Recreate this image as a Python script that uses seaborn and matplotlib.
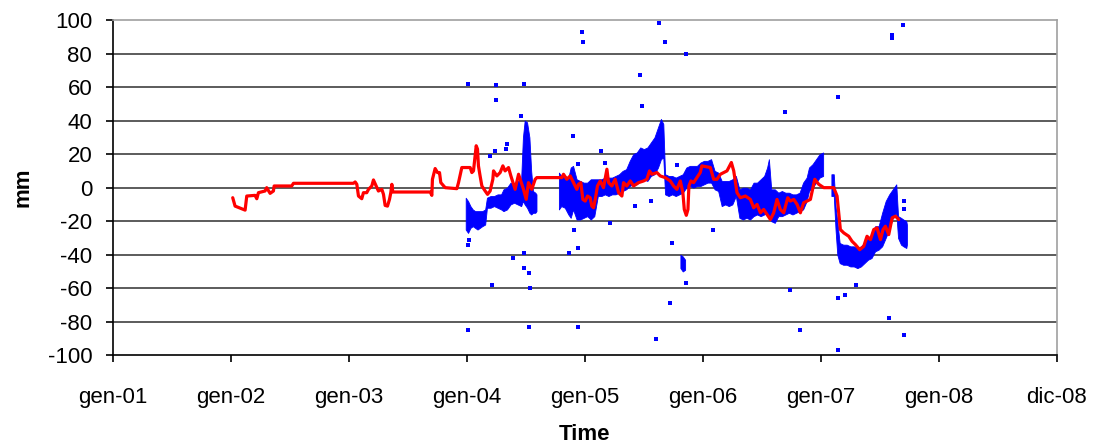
import numpy as np
import pandas as pd
import matplotlib
matplotlib.use('Agg')
import matplotlib.pyplot as plt
import seaborn as sns

# red line: (decimal year, mm)
red_t = [2002.015, 2002.035, 2002.12, 2002.134, 2002.204, 2002.219, 2002.233, 2002.289, 2002.303,
         2002.332, 2002.36, 2002.366, 2002.515, 2002.53, 2003.038, 2003.053, 2003.067, 2003.081,
         2003.109, 2003.123, 2003.151, 2003.166, 2003.194, 2003.208, 2003.231, 2003.25, 2003.279,
         2003.293, 2003.307, 2003.327, 2003.344, 2003.355, 2003.364, 2003.372, 2003.689, 2003.703,
         2003.708, 2003.731, 2003.751, 2003.768, 2003.779, 2003.816, 2003.915, 2003.929, 2003.957,
         2004.028, 2004.042, 2004.056, 2004.079, 2004.09, 2004.098, 2004.112, 2004.127, 2004.155,
         2004.175, 2004.197, 2004.22, 2004.226, 2004.254, 2004.282, 2004.305, 2004.324, 2004.353,
         2004.373, 2004.395, 2004.409, 2004.438, 2004.457, 2004.48, 2004.503, 2004.522, 2004.55,
         2004.579, 2004.593, 2004.805, 2004.819, 2004.847, 2004.876, 2004.904, 2004.932, 2004.946,
         2004.966, 2004.983, 2005.003, 2005.023, 2005.045, 2005.059, 2005.074, 2005.088, 2005.107,
         2005.13, 2005.158, 2005.187, 2005.201, 2005.229, 2005.257, 2005.286, 2005.314, 2005.328,
         2005.356, 2005.385, 2005.413, 2005.455, 2005.498, 2005.526, 2005.548, 2005.568, 2005.611,
         2005.639, 2005.681, 2005.724, 2005.752, 2005.78, 2005.809, 2005.831, 2005.843, 2005.86,
         2005.874, 2005.882, 2005.899, 2005.922, 2005.95, 2005.978, 2005.992, 2006.064, 2006.092,
         2006.12, 2006.149, 2006.205, 2006.242, 2006.262, 2006.29, 2006.318, 2006.361, 2006.403,
         2006.431, 2006.46, 2006.488, 2006.516, 2006.544, 2006.573, 2006.601, 2006.629, 2006.657,
         2006.686, 2006.72, 2006.742, 2006.771, 2006.799, 2006.827, 2006.855, 2006.884, 2006.912,
         2006.949, 2006.983, 2007.025, 2007.11, 2007.138, 2007.166, 2007.195, 2007.237, 2007.265,
         2007.294, 2007.33, 2007.364, 2007.392, 2007.421, 2007.449, 2007.477, 2007.506, 2007.528,
         2007.548, 2007.576, 2007.605, 2007.633, 2007.661]
red_v = [-6, -11, -13.4, -5, -4.6, -6.6, -3, -2, 0,
         -3.4, -2, 1, 1, 2.6, 2.6, 3.4, 2, -5,
         -6.6, -3, -3, -1, 1, 4.6, 1, -2, -1,
         -4, -10.6, -11, -7, -3, 2, -2.6, -2.6, -4.6,
         5, 11.4, 9, 9, 3, 0, -0.6, 3, 12,
         12, 9, 10, 25, 23, 13, 7, 1, -2,
         -4, -2, 5, 10, 7, 9, 13, 10, 12,
         7, 2, -1, 8, 4, -1, -7, 3, -1,
         5, 6, 6, 8, 5, 7, 3, -1, 2,
         3, -7, -8, -5, -6, -11, -12, -7, 1,
         4, 0, 11, 3, 1, 5, -3, -5, 3,
         1, 4, 1, 3, 4, 5, 10, 8, 9,
         7, 6, 4, 1, -1, 4, -3, -13, -16.5,
         -13, 1, 4, 3, 6, 9, 13, 12, 5,
         5, 8, 10, 15, 10, -3, -6, -5, -7,
         -12, -10, -15, -13, -16, -19, -15, -7, -13,
         -15, -6, -8, -7, -10, -15, -9, -8, -7,
         5, 2, 0, 0, -5, -25, -27, -29, -32,
         -34, -37, -35, -29, -31, -25, -24, -31, -25,
         -23, -28, -18, -17, -19]

# blue cloud envelope: segment id, decimal year, upper, lower
band_seg = [0] * 28 + [1] * 79 + [2] * 26 + [3] * 3
band_t = [2003.99, 2004.01, 2004.03, 2004.05, 2004.07, 2004.09, 2004.11, 2004.13, 2004.155, 2004.17,
          2004.20, 2004.23, 2004.26, 2004.29, 2004.31, 2004.34, 2004.37, 2004.40, 2004.43, 2004.46,
          2004.475, 2004.49, 2004.51, 2004.53, 2004.545, 2004.56, 2004.58, 2004.59,
          2004.78, 2004.80, 2004.83, 2004.86, 2004.88, 2004.90, 2004.93, 2004.96, 2004.99, 2005.02,
          2005.05, 2005.08, 2005.11, 2005.14, 2005.17, 2005.20, 2005.23, 2005.26, 2005.29, 2005.32,
          2005.35, 2005.38, 2005.41, 2005.44, 2005.47, 2005.50, 2005.53, 2005.56, 2005.59, 2005.62,
          2005.645, 2005.665, 2005.68, 2005.71, 2005.74, 2005.77, 2005.80, 2005.83, 2005.86, 2005.89,
          2005.92, 2005.95, 2005.98, 2006.01, 2006.04, 2006.07, 2006.10, 2006.13, 2006.16, 2006.19,
          2006.22, 2006.25, 2006.28, 2006.31, 2006.34, 2006.37, 2006.40, 2006.43, 2006.46, 2006.49,
          2006.52, 2006.545, 2006.56, 2006.58, 2006.61, 2006.64, 2006.67, 2006.70, 2006.73, 2006.76,
          2006.79, 2006.82, 2006.85, 2006.88, 2006.90, 2006.93, 2006.96, 2006.99, 2007.02,
          2007.09, 2007.11, 2007.125, 2007.14, 2007.16, 2007.19, 2007.22, 2007.25, 2007.28, 2007.31,
          2007.34, 2007.37, 2007.40, 2007.43, 2007.46, 2007.49, 2007.52, 2007.55, 2007.58, 2007.61,
          2007.64, 2007.655, 2007.68, 2007.70, 2007.725, 2007.73,
          2005.81, 2005.83, 2005.85]
band_hi = [-6, -8, -11, -13, -14, -14, -14, -14, -13, -6,
           -5, -5, -4, -4, -1, 0, 3, 2, 4, 5,
           30, 40, 39, 30, 10, -2, -3, -4,
           9, 7, 7, 6, 12, 13, 5, 4, 3, 3,
           5, 5, 5, 5, 6, 6, 6, 7, 8, 10,
           11, 16, 20, 21, 24, 23, 24, 27, 30, 36,
           41, 38, 8, 7, 7, 6, 7, 8, 12, 13,
           13, 13, 15, 16, 16, 17, 10, 9, 4, 4,
           4, 5, 7, -1, 0, 0, -1, 3, 3, 5,
           7, 12, 17, -1, -1, -3, -2, -3, -3, -4,
           -4, -3, 3, 6, 12, 14, 17, 20, 21,
           8, 8, -11, -20, -33, -34, -34, -35, -35, -36,
           -35, -33, -30, -29, -23, -23, -15, -8, -4, -1,
           2, -17, -18, -19, -20, -22,
           -40, -41, -43]
band_lo = [-25, -27, -24, -23, -24, -25, -24, -23, -22, -12,
           -12, -11, -12, -13, -14, -13, -10, -9, -10, -11,
           -8, -10, -12, -15, -16, -15, -15, -14,
           -13, -11, -12, -16, -18, -13, -19, -19, -18, -17,
           -19, -17, -5, -5, -4, -5, -4, -4, -3, -2,
           -1, 1, 2, 2, 4, 5, 4, 7, 8, 12,
           17, 18, -4, -5, -4, -5, -4, -3, 0, 1,
           0, 1, 1, 2, 3, 3, -1, -2, -11, -10,
           -11, -10, -5, -18, -19, -18, -19, -17, -16, -17,
           -16, -15, -17, -20, -21, -17, -17, -16, -15, -16,
           -15, -14, -13, -8, -2, 0, 3, 6, 7,
           -5, -5, -25, -40, -45, -46, -46, -47, -47, -48,
           -47, -45, -43, -42, -38, -37, -35, -30, -25, -18,
           -15, -30, -34, -35, -36, -34,
           -48, -50, -49]

# isolated blue points: decimal year, mm
pts_t = [2004.01, 2004.245, 2004.48, 2004.245, 2004.457, 2004.975, 2004.983, 2005.625, 2005.676,
         2005.86, 2005.467, 2005.483, 2004.898, 2004.339, 2005.139, 2004.197, 2004.24, 2004.946,
         2005.78, 2004.013, 2004.02, 2004.39, 2004.48, 2004.486, 2004.528, 2004.536, 2004.211,
         2004.867, 2004.946, 2004.904, 2005.21, 2005.738, 2005.86, 2005.724, 2004.01, 2004.528,
         2004.946, 2005.602, 2006.09, 2005.427, 2005.563, 2007.604, 2007.604, 2007.695, 2007.147,
         2006.7, 2006.742, 2006.821, 2007.147, 2007.209, 2007.299, 2007.576, 2007.709, 2007.147,
         2006.086, 2007.709, 2007.709, 2004.33, 2005.17]
pts_v = [62, 61, 62, 52, 43, 93, 87, 98, 87,
         80, 67, 49, 31, 26, 22, 19, 22, 14,
         13.5, -34, -31, -42, -39, -48, -51, -60, -58,
         -39, -36, -25, -21, -33, -57, -69, -85, -83,
         -83, -90, -25, -11, -8, 91, 89, 97, 54,
         45, -61, -85, -66, -64, -58, -78, -88, -97,
         -25, -8, -13, 23, 15]

tick_labels = ['gen-01', 'gen-02', 'gen-03', 'gen-04', 'gen-05', 'gen-06', 'gen-07', 'gen-08', 'dic-08']

base = pd.Timestamp('2001-01-02')


def to_date(t):
    return base + pd.to_timedelta((np.asarray(t) - 2001) * 365, unit='D')


sns.set_style('white')
plt.rcParams['font.family'] = ['Liberation Sans', 'DejaVu Sans']
plt.rcParams['axes.unicode_minus'] = False
plt.rcParams['text.color'] = 'black'
plt.rcParams['axes.labelcolor'] = 'black'
plt.rcParams['xtick.color'] = 'black'
plt.rcParams['ytick.color'] = 'black'

fig = plt.figure(figsize=(10.98, 4.45), dpi=100)
ax = fig.add_axes([0.1029, 0.2016, 0.8595, 0.7534])

band = pd.DataFrame({'seg': band_seg, 't': to_date(band_t), 'hi': band_hi, 'lo': band_lo})
for _, g in band.groupby('seg'):
    ax.fill_between(g['t'], g['lo'], g['hi'], color='#0000ff', edgecolor='#0000ff',
                    linewidth=0.6, zorder=2)

sns.scatterplot(x=to_date(pts_t), y=pts_v, ax=ax, color='#0000ff', marker='s', s=8,
                linewidth=0, zorder=3)
sns.lineplot(x=to_date(red_t), y=red_v, ax=ax, color='#ff0000', linewidth=2.3,
             sort=False, estimator=None, zorder=4)

xt = [base + pd.Timedelta(days=365 * k) for k in range(9)]
ax.set_xlim(xt[0], xt[-1])
ax.set_xticks(xt)
ax.set_xticklabels(tick_labels)
ax.set_ylim(-100, 100)
ax.set_yticks(range(-100, 101, 20))

for y in range(-80, 100, 20):
    ax.axhline(y, color='#404040', linewidth=1.2, zorder=1)

for s in ['top', 'right']:
    ax.spines[s].set_color('#a0a0a0')
    ax.spines[s].set_linewidth(1.2)
for s in ['left', 'bottom']:
    ax.spines[s].set_color('#000000')
    ax.spines[s].set_linewidth(1.2)

ax.tick_params(axis='both', direction='out', length=5, width=1.2, color='#000000',
               labelsize=16, bottom=True, left=True)
ax.tick_params(axis='y', pad=10)
ax.tick_params(axis='x', pad=18)

ax.set_xlabel('Time', fontsize=16, fontweight='bold', labelpad=11)
ax.set_ylabel('mm', fontsize=16, fontweight='bold', labelpad=10)

fig.savefig('out.png', dpi=100)
